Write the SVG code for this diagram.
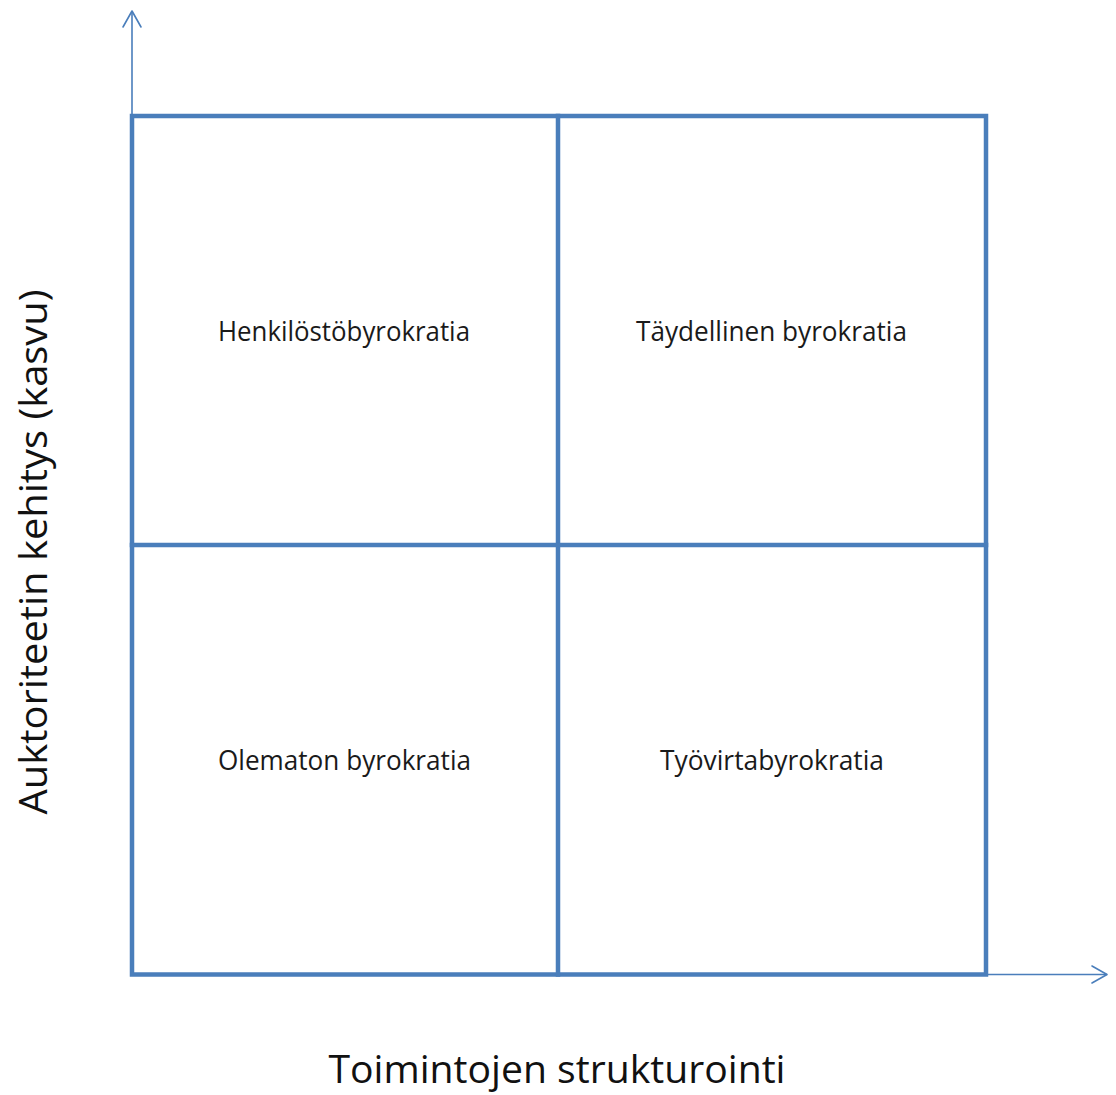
<svg xmlns="http://www.w3.org/2000/svg" width="1116" height="1095" viewBox="0 0 1116 1095">
  <style>
    .grid { fill: none; stroke: #4a7ebb; stroke-width: 4.5; stroke-linecap: square; }
    .axis { fill: none; stroke: #4a7ebb; stroke-width: 1.6; }
    .head { fill: none; stroke: #4a7ebb; stroke-width: 1.6; stroke-linecap: round; stroke-linejoin: round; }
    .cell { font-family: "Open Sans", "Noto Sans", sans-serif; font-size: 27px; fill: #1a1a1a; text-anchor: middle; }
    .axislabel { font-family: "Open Sans", "Noto Sans", sans-serif; font-size: 39px; fill: #111; text-anchor: middle; }
  </style>
  <rect width="1116" height="1095" fill="#ffffff"/>

  <!-- axes with open arrowheads -->
  <g id="connectors">
    <line class="axis" x1="132" y1="116" x2="132" y2="11"/>
    <polyline class="head" points="123,27 132,11 141,27"/>
    <line class="axis" x1="986" y1="974.5" x2="1107" y2="974.5"/>
    <polyline class="head" points="1092,966 1107,974.5 1092,983"/>
  </g>

  <!-- 2x2 matrix -->
  <g id="matrix">
    <rect class="grid" x="132" y="116" width="854" height="858.5"/>
    <line class="grid" x1="558" y1="116" x2="558" y2="974.5"/>
    <line class="grid" x1="132" y1="545" x2="986" y2="545"/>
  </g>

  <g id="cell-top-left">
    <text class="cell" x="344" y="341" textLength="252" lengthAdjust="spacingAndGlyphs">Henkilöstöbyrokratia</text>
  </g>
  <g id="cell-top-right">
    <text class="cell" x="771.5" y="341" textLength="271" lengthAdjust="spacingAndGlyphs">Täydellinen byrokratia</text>
  </g>
  <g id="cell-bottom-left">
    <text class="cell" x="344.5" y="770" textLength="253" lengthAdjust="spacingAndGlyphs">Olematon byrokratia</text>
  </g>
  <g id="cell-bottom-right">
    <text class="cell" x="772" y="770" textLength="224" lengthAdjust="spacingAndGlyphs">Työvirtabyrokratia</text>
  </g>

  <g id="x-axis-label">
    <text class="axislabel" x="557" y="1083" textLength="457" lengthAdjust="spacingAndGlyphs">Toimintojen strukturointi</text>
  </g>
  <g id="y-axis-label">
    <text class="axislabel" transform="translate(47,552) rotate(-90)" x="0" y="0" textLength="525" lengthAdjust="spacingAndGlyphs">Auktoriteetin kehitys (kasvu)</text>
  </g>
</svg>
